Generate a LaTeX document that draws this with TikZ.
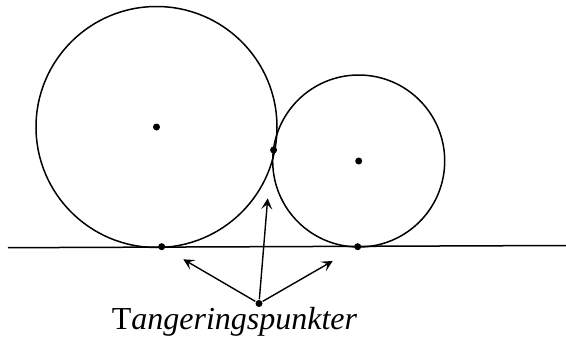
\documentclass[tikz,border=0pt]{standalone}
\usepackage{fontspec}
\setmainfont{Liberation Serif}
\usetikzlibrary{arrows.meta,positioning}

\begin{document}
\begin{tikzpicture}[x=1pt, y=-1pt, line width=1.5pt,
    tpoint/.style={circle, fill=black, inner sep=0pt, minimum size=7pt},
    pointer/.style={-{Stealth[length=11pt, width=11pt, inset=5pt]}, line width=1.4pt}]
    \useasboundingbox (0,0) rectangle (566,343);
    % Circles and the common tangent line
    \draw (156.5,127) circle (120.5);
    \draw (358.7,161) circle (86);
    \coordinate (lineL) at (8,247.7);
    \coordinate (lineR) at (566,245.5);
    \draw (lineL) -- (lineR);
    % Centres and points of tangency
    \node[tpoint] (cbig) at (156.5,127) {};
    \node[tpoint] (csmall) at (358.7,161) {};
    \node[tpoint] (tmid) at (273.6,150) {};
    \node[tpoint] (tleft) at (161.7,246.7) {};
    \node[tpoint] (tright) at (357.7,246.7) {};
    % Label with arrows
    \node[tpoint] (src) at (259,303.5) {};
    \node[anchor=base, inner sep=0pt, font=\fontsize{32}{38}\selectfont] (lbl) at (234.5,329.5) {T\textit{angeringspunkter}};
    \coordinate (aleft) at (183.3,259.3);
    \coordinate (amid) at (267.7,198.3);
    \coordinate (aright) at (332.7,261);
    \draw[pointer] (src) -- (aleft);
    \draw[pointer] (src) -- (amid);
    \draw[pointer] (src) -- (aright);
\end{tikzpicture}
\end{document}
